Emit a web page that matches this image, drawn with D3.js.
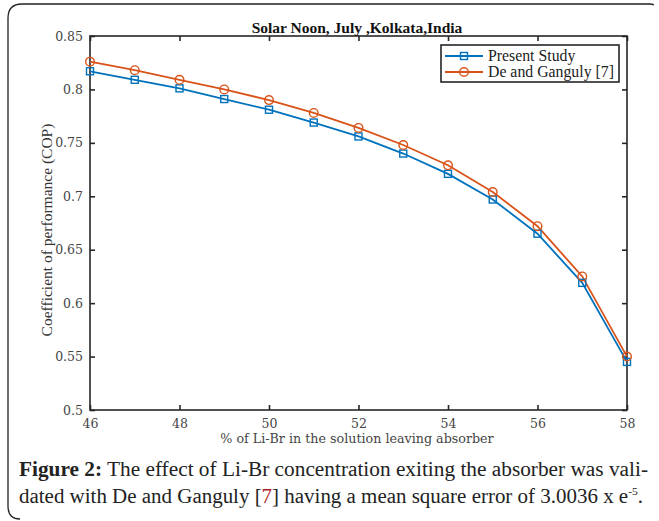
<!DOCTYPE html>
<html>
<head>
<meta charset="utf-8">
<script src="https://cdn.jsdelivr.net/npm/d3@7"></script>
<style>
  body { margin: 0; background: #fff; }
  svg { display: block; }
</style>
</head>
<body>
<script>
// values
var liBr = [46, 47, 48, 49, 50, 51, 52, 53, 54, 55, 56, 57, 58];
var presentStudy = [0.817, 0.809, 0.801, 0.791, 0.781, 0.769, 0.756, 0.740, 0.721, 0.697, 0.665, 0.619, 0.545];
var deGanguly = [0.826, 0.818, 0.809, 0.800, 0.790, 0.778, 0.764, 0.748, 0.729, 0.704, 0.672, 0.625, 0.550];
var xTicks = [46, 48, 50, 52, 54, 56, 58];
var yTicks = [0.5, 0.55, 0.6, 0.65, 0.7, 0.75, 0.8, 0.85];

var W = 659, H = 521;
var plot = {left: 90, top: 36, right: 627, bottom: 410};
var axisColor = "#262626";
var blue = "#0072BD", orange = "#D95319";
var serifFont = "Liberation Serif";
var tickFont = "DejaVu Serif";

var svg = d3.select("body").append("svg")
    .attr("width", W)
    .attr("height", H);

// rounded frame round the figure (top and left edges)
svg.append("path")
    .attr("d", "M654,5 Q652,4 650,4 L22,4 Q8,4 8,18 L8,506 Q8,519 20,519")
    .attr("fill", "none")
    .attr("stroke", "#222")
    .attr("stroke-width", 1.3);

var x = d3.scaleLinear().domain([46, 58]).range([plot.left, plot.right]);
var y = d3.scaleLinear().domain([0.5, 0.85]).range([plot.bottom, plot.top]);

var g = svg.append("g");

// box
g.append("rect")
    .attr("x", plot.left).attr("y", plot.top)
    .attr("width", plot.right - plot.left)
    .attr("height", plot.bottom - plot.top)
    .attr("fill", "none")
    .attr("stroke", axisColor)
    .attr("stroke-width", 1.6);

// axes, ticks inside
var xAxis = d3.axisBottom(x).tickValues(xTicks).tickSizeInner(-5).tickSizeOuter(0).tickPadding(9);
var xAxisTop = d3.axisTop(x).tickValues(xTicks).tickSizeInner(-5).tickSizeOuter(0).tickFormat("");
var yAxis = d3.axisLeft(y).tickValues(yTicks).tickSizeInner(-5).tickSizeOuter(0).tickPadding(7)
    .tickFormat(function(d) { return String(+d.toFixed(2)); });
var yAxisRight = d3.axisRight(y).tickValues(yTicks).tickSizeInner(-5).tickSizeOuter(0).tickFormat("");

function styleAxis(sel) {
  sel.attr("font-family", tickFont).attr("font-size", 12.5);
  sel.select(".domain").remove();
  sel.selectAll("line").attr("stroke", axisColor).attr("stroke-width", 1.6);
  sel.selectAll("text").attr("fill", "#444");
}

g.append("g").attr("transform", "translate(0," + plot.bottom + ")").call(xAxis).call(styleAxis);
g.append("g").attr("transform", "translate(0," + plot.top + ")").call(xAxisTop).call(styleAxis);
g.append("g").attr("transform", "translate(" + plot.left + ",0)").call(yAxis).call(styleAxis);
g.append("g").attr("transform", "translate(" + plot.right + ",0)").call(yAxisRight).call(styleAxis);

// title
svg.append("text")
    .attr("x", 357).attr("y", 33)
    .attr("text-anchor", "middle")
    .attr("font-family", serifFont)
    .attr("font-weight", "bold")
    .attr("font-size", 15.5)
    .attr("fill", "#111")
    .text("Solar Noon, July ,Kolkata,India");

// axis labels
svg.append("text")
    .attr("x", 357).attr("y", 443)
    .attr("text-anchor", "middle")
    .attr("font-family", tickFont)
    .attr("font-size", 12.7)
    .attr("fill", "#444")
    .text("% of Li-Br in the solution leaving absorber");

svg.append("text")
    .attr("transform", "translate(52,230) rotate(-90)")
    .attr("text-anchor", "middle")
    .attr("font-family", serifFont)
    .attr("font-size", 15.5)
    .attr("fill", "#333")
    .text("Coefficient of performance (COP)");

// series
var line = d3.line()
    .x(function(d) { return x(d[0]); })
    .y(function(d) { return y(d[1]); });

var seriesA = liBr.map(function(v, i) { return [v, presentStudy[i]]; });
var seriesB = liBr.map(function(v, i) { return [v, deGanguly[i]]; });

g.append("path").datum(seriesA)
    .attr("d", line).attr("fill", "none")
    .attr("stroke", blue).attr("stroke-width", 1.8);
g.append("path").datum(seriesB)
    .attr("d", line).attr("fill", "none")
    .attr("stroke", orange).attr("stroke-width", 1.8);

g.selectAll("rect.sq").data(seriesA).enter().append("rect")
    .attr("class", "sq")
    .attr("x", function(d) { return x(d[0]) - 3.5; })
    .attr("y", function(d) { return y(d[1]) - 3.5; })
    .attr("width", 7).attr("height", 7)
    .attr("fill", "none").attr("stroke", blue).attr("stroke-width", 1.4);

g.selectAll("circle.ci").data(seriesB).enter().append("circle")
    .attr("class", "ci")
    .attr("cx", function(d) { return x(d[0]); })
    .attr("cy", function(d) { return y(d[1]); })
    .attr("r", 4.3)
    .attr("fill", "none").attr("stroke", orange).attr("stroke-width", 1.4);

// legend
var lg = svg.append("g");
lg.append("rect")
    .attr("x", 441).attr("y", 45).attr("width", 178).attr("height", 37)
    .attr("fill", "#fff").attr("stroke", axisColor).attr("stroke-width", 1.6);

var legendItems = [
  {name: "Present Study", color: blue, marker: "square"},
  {name: "De and Ganguly [7]", color: orange, marker: "circle"}
];
legendItems.forEach(function(item, i) {
  var ly = 56 + i * 16;
  lg.append("line")
      .attr("x1", 445).attr("x2", 483).attr("y1", ly).attr("y2", ly)
      .attr("stroke", item.color).attr("stroke-width", 1.8);
  if (item.marker === "square") {
    lg.append("rect").attr("x", 460.5).attr("y", ly - 3.5).attr("width", 7).attr("height", 7)
        .attr("fill", "none").attr("stroke", item.color).attr("stroke-width", 1.4);
  } else {
    lg.append("circle").attr("cx", 464).attr("cy", ly).attr("r", 4.3)
        .attr("fill", "none").attr("stroke", item.color).attr("stroke-width", 1.4);
  }
  lg.append("text")
      .attr("x", 488).attr("y", ly + 5)
      .attr("font-family", serifFont)
      .attr("font-size", 15.8)
      .attr("fill", "#222")
      .text(item.name);
});

// caption
var cap1 = svg.append("text")
    .attr("x", 19).attr("y", 476)
    .attr("textLength", 629).attr("lengthAdjust", "spacingAndGlyphs")
    .attr("font-family", serifFont)
    .attr("font-size", 20)
    .attr("fill", "#222");
cap1.append("tspan").attr("font-weight", "bold").text("Figure 2:");
cap1.append("tspan").text(" The effect of Li-Br concentration exiting the absorber was vali-");

var cap2 = svg.append("text")
    .attr("x", 19).attr("y", 503)
    .attr("textLength", 624).attr("lengthAdjust", "spacingAndGlyphs")
    .attr("font-family", serifFont)
    .attr("font-size", 20)
    .attr("fill", "#222");
cap2.append("tspan").text("dated with De and Ganguly [");
cap2.append("tspan").attr("fill", "#b01c1c").text("7");
cap2.append("tspan").text("] having a mean square error of 3.0036 x e");
cap2.append("tspan").attr("dy", -8).attr("font-size", 11).text("-5");
cap2.append("tspan").attr("dy", 8).text(".");
</script>
</body>
</html>
